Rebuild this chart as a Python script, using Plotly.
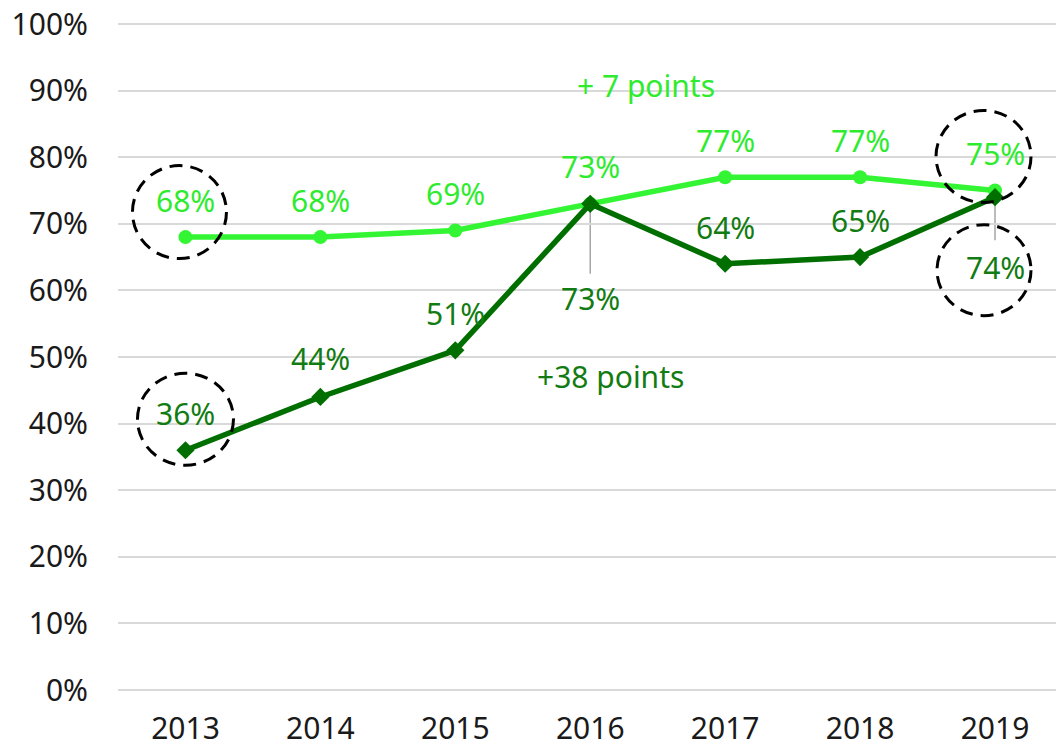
import plotly.graph_objects as go

# Survey share by year, two series
years = [2013, 2014, 2015, 2016, 2017, 2018, 2019]
light_values = [68, 68, 69, 73, 77, 77, 75]
dark_values = [36, 44, 51, 73, 64, 65, 74]
y_ticks = [0, 10, 20, 30, 40, 50, 60, 70, 80, 90, 100]

# label placement per point: vertical pixel offset from the marker
light_label_shift = [37, 37, 37, 37, 37, 37, 37]
dark_label_shift = [37, 38, 37, -95, 36, 37, -70]

LIGHT = "#33F533"
LIGHT_TXT = "#2EEB2E"
DARK = "#006F00"
DARK_TXT = "#127C12"
FONT = "Noto Sans"
FS = 30

fig = go.Figure()

fig.add_trace(go.Scatter(
    x=years, y=light_values, mode="lines+markers",
    line=dict(color=LIGHT, width=5.5),
    marker=dict(symbol="circle", size=14, color=LIGHT),
    hoverinfo="skip", showlegend=False,
))
fig.add_trace(go.Scatter(
    x=years, y=dark_values, mode="lines+markers",
    line=dict(color=DARK, width=5.5),
    marker=dict(symbol="diamond", size=14, color=DARK),
    hoverinfo="skip", showlegend=False,
))

annotations = []
for x, v, s in zip(years, light_values, light_label_shift):
    annotations.append(dict(x=x, y=v, text=f"{v}%", showarrow=False, yshift=s,
                            font=dict(family=FONT, size=FS, color=LIGHT_TXT)))
for x, v, s in zip(years, dark_values, dark_label_shift):
    annotations.append(dict(x=x, y=v, text=f"{v}%", showarrow=False, yshift=s,
                            font=dict(family=FONT, size=FS, color=DARK_TXT)))

# change callouts
annotations.append(dict(x=2016.41, y=90.8, text="+ 7 points", showarrow=False,
                        font=dict(family=FONT, size=FS, color=LIGHT_TXT)))
annotations.append(dict(x=2016.15, y=47.0, text="+38 points", showarrow=False,
                        font=dict(family=FONT, size=FS, color=DARK_TXT)))

shapes = []
# leader lines from the marker down to the label below it
for yr, val, length in [(2016, 73, 70), (2019, 74, 43)]:
    shapes.append(dict(type="line", xref="x", yref="y",
                       xsizemode="pixel", ysizemode="pixel",
                       xanchor=yr, yanchor=val, x0=0, x1=0, y0=0, y1=-length,
                       line=dict(color="#A6A6A6", width=1.5), layer="below"))

# dashed rings highlighting the first and last values
rings = [
    (2013, 68, -6, 25, 47, 46.5),
    (2013, 36, 0, 31, 48, 46),
    (2019, 75, -11.5, 34, 47.5, 46),
    (2019, 74, -11, -73, 47, 45.5),
]
for yr, val, dx, dy, rx, ry in rings:
    shapes.append(dict(type="circle", xref="x", yref="y",
                       xsizemode="pixel", ysizemode="pixel",
                       xanchor=yr, yanchor=val,
                       x0=dx - rx, x1=dx + rx, y0=dy - ry, y1=dy + ry,
                       line=dict(color="black", width=3, dash="13px,8px")))

fig.update_layout(
    width=1056, height=747,
    margin=dict(l=118, r=0, t=21.5, b=55),
    paper_bgcolor="white", plot_bgcolor="white",
    annotations=annotations, shapes=shapes,
    font=dict(family=FONT, size=FS, color="#1a1a1a"),
    xaxis=dict(range=[2012.5, 2019.452], tickvals=years,
               ticktext=[str(y) for y in years], automargin=False,
               showgrid=False, zeroline=False, showline=False,
               ticks="", ticklabelstandoff=16,
               tickfont=dict(family=FONT, size=FS, color="#1a1a1a")),
    yaxis=dict(range=[-0.3, 100.3], tickvals=y_ticks,
               ticktext=[f"{t}%" for t in y_ticks], automargin=False,
               showgrid=True, gridcolor="#D9D9D9", gridwidth=1.5,
               zeroline=False, showline=False, ticks="",
               ticklabelstandoff=29,
               tickfont=dict(family=FONT, size=FS, color="#1a1a1a")),
)

fig.write_html("out.html")
